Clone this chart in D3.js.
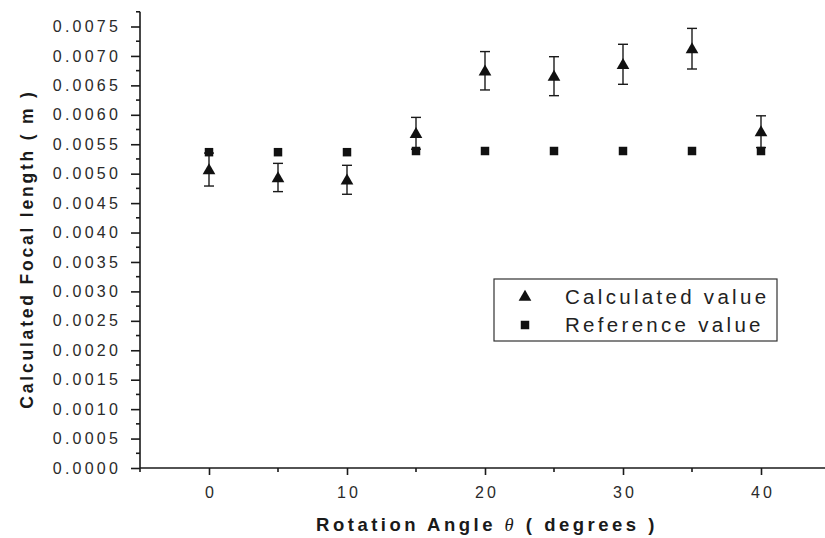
<!DOCTYPE html>
<html lang="en">
<head>
    <meta charset="UTF-8">
    <title>Calculated Focal length vs Rotation Angle</title>
    <style>
        body{
            margin: 0;
            background: #ffffff;
        }
        svg{
            display: block;
            font-family: "Liberation Sans", Arial, sans-serif;
        }
        .axis path, .axis line{
            stroke: #1a1a1a;
            stroke-width: 1.6px;
        }
        .axis text{
            fill: #2a2a2a;
            font-size: 16px;
            letter-spacing: 3.2px;
        }
        .label{
            fill: #1a1a1a;
            font-weight: bold;
        }
    </style>
    <script src="https://cdn.jsdelivr.net/npm/d3@7"></script>
</head>
<body>
    <script>
        // angles in degrees
        const angles = [0, 5, 10, 15, 20, 25, 30, 35, 40];
        // calculated focal length (m) and its error
        const calculated = [0.00507, 0.004935, 0.004896, 0.005686, 0.006748, 0.006656, 0.006858, 0.007123, 0.005713];
        const calcError = [0.00028, 0.00024, 0.000246, 0.00027, 0.000326, 0.000331, 0.00034, 0.000345, 0.00027];
        // reference focal length (m)
        const reference = [0.005365, 0.005365, 0.005365, 0.005385, 0.005385, 0.005385, 0.005385, 0.005385, 0.005385];

        const xMajorTicks = [0, 10, 20, 30, 40];
        const xMinorTicks = [-5, 5, 15, 25, 35, 45];
        const yMajorTicks = d3.range(0, 16).map(i => i * 0.0005);
        const yMinorTicks = d3.range(0, 16).map(i => i * 0.0005 + 0.00025);
        const legendItems = ["Calculated value", "Reference value"];

        const width = 825;
        const height = 538;
        const svg = d3.select("body").append("svg")
            .attr("width", width)
            .attr("height", height);

        const xScale = d3.scaleLinear()
            .domain([-5, 45])
            .range([140, 830]);
        const yScale = d3.scaleLinear()
            .domain([0, 0.0075])
            .range([468, 26.5]);
        const yTop = 0.00775;

        //axes
        const xAxis = svg.append("g").attr("class", "axis")
            .attr("transform", `translate(0,${yScale(0)})`);
        xAxis.call(d3.axisBottom(xScale).tickValues(xMajorTicks).tickSize(7).tickSizeOuter(0).tickPadding(12));
        xAxis.select(".domain").remove();
        xAxis.append("line")
            .attr("x1", xScale(-5)).attr("x2", xScale(45))
            .attr("y1", 0).attr("y2", 0);
        xAxis.selectAll(".minor")
            .data(xMinorTicks)
            .enter()
            .append("line")
            .attr("class", "minor")
            .attr("x1", d => xScale(d)).attr("x2", d => xScale(d))
            .attr("y1", 0).attr("y2", 4);
        // centre the spaced labels on their ticks
        xAxis.selectAll(".tick text").attr("dx", "1.6px");

        const yAxis = svg.append("g").attr("class", "axis")
            .attr("transform", `translate(${xScale(-5)},0)`);
        yAxis.call(d3.axisLeft(yScale).tickValues(yMajorTicks).tickFormat(d3.format(".4f"))
            .tickSize(9).tickSizeOuter(0).tickPadding(10));
        yAxis.select(".domain").remove();
        yAxis.append("line")
            .attr("x1", 0).attr("x2", 0)
            .attr("y1", yScale(0)).attr("y2", yScale(yTop));
        yAxis.selectAll(".minor")
            .data(yMinorTicks)
            .enter()
            .append("line")
            .attr("class", "minor")
            .attr("x1", 0).attr("x2", -4)
            .attr("y1", d => yScale(d)).attr("y2", d => yScale(d));

        const points = angles.map((a, i) => ({
            angle: a,
            calc: calculated[i],
            err: calcError[i],
            ref: reference[i]
        }));

        //error bars
        const errG = svg.append("g").attr("class", "errors")
            .attr("stroke", "#1a1a1a").attr("stroke-width", 1.4);
        const err = errG.selectAll("g")
            .data(points)
            .enter()
            .append("g");
        err.append("line")
            .attr("x1", d => xScale(d.angle)).attr("x2", d => xScale(d.angle))
            .attr("y1", d => yScale(d.calc - d.err)).attr("y2", d => yScale(d.calc + d.err));
        err.append("line")
            .attr("x1", d => xScale(d.angle) - 5).attr("x2", d => xScale(d.angle) + 5)
            .attr("y1", d => yScale(d.calc + d.err)).attr("y2", d => yScale(d.calc + d.err));
        err.append("line")
            .attr("x1", d => xScale(d.angle) - 5).attr("x2", d => xScale(d.angle) + 5)
            .attr("y1", d => yScale(d.calc - d.err)).attr("y2", d => yScale(d.calc - d.err));

        const triangle = d3.symbol().type(d3.symbolTriangle).size(70);
        const square = d3.symbol().type(d3.symbolSquare).size(72);

        //reference squares
        svg.append("g").attr("class", "ref")
            .selectAll("path")
            .data(points)
            .enter()
            .append("path")
            .attr("d", square)
            .attr("fill", "#111")
            .attr("transform", d => `translate(${xScale(d.angle)},${yScale(d.ref)})`);

        //calculated triangles
        svg.append("g").attr("class", "calc")
            .selectAll("path")
            .data(points)
            .enter()
            .append("path")
            .attr("d", triangle)
            .attr("fill", "#111")
            .attr("transform", d => `translate(${xScale(d.angle)},${yScale(d.calc) + 1})`);

        //legend
        const legend = svg.append("g").attr("class", "legend");
        legend.append("rect")
            .attr("x", 494).attr("y", 279)
            .attr("width", 283).attr("height", 62)
            .attr("fill", "#fff")
            .attr("stroke", "#333")
            .attr("stroke-width", 1.2);
        const legendRows = legend.selectAll(".row")
            .data(legendItems)
            .enter()
            .append("g")
            .attr("class", "row")
            .attr("transform", (d, i) => `translate(525,${297 + i * 28})`);
        legendRows.append("path")
            .attr("d", (d, i) => i === 0 ? triangle() : square())
            .attr("fill", "#111");
        legendRows.append("text")
            .attr("x", 40)
            .attr("y", 7)
            .attr("fill", "#222")
            .style("font-size", "20.5px")
            .style("letter-spacing", "3.3px")
            .text(d => d);

        // y axis title
        svg.append("text")
            .attr("class", "label")
            .attr("transform", `translate(33,249) rotate(-90)`)
            .style("font-size", "17.5px")
            .style("letter-spacing", "2.8px")
            .style("text-anchor", "middle")
            .text("Calculated Focal length ( m )");

        // x axis title
        const xt = svg.append("text")
            .attr("class", "label")
            .attr("x", 487)
            .attr("y", 531)
            .style("font-size", "18.5px")
            .style("letter-spacing", "3.5px")
            .style("text-anchor", "middle");
        xt.append("tspan").text("Rotation Angle  ");
        xt.append("tspan")
            .style("font-family", "'Liberation Serif', serif")
            .style("font-style", "italic")
            .style("font-weight", "normal")
            .text("θ");
        xt.append("tspan").text(" ( degrees )");
    </script>
</body>
</html>
